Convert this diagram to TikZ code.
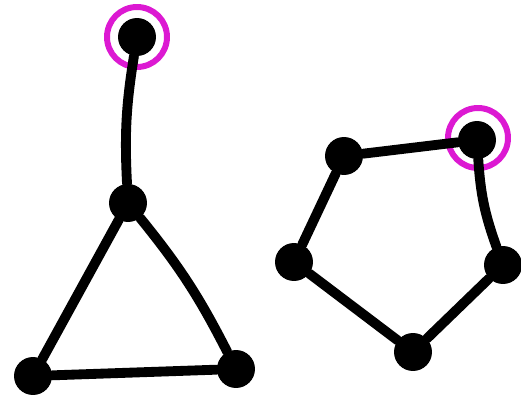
\documentclass[tikz,border=0pt]{standalone}
\usepackage{tikz}
\usetikzlibrary{positioning}
\definecolor{marker}{RGB}{220,25,210}

\begin{document}
\begin{tikzpicture}[x=0.02cm,y=-0.02cm,
    vtx/.style={circle,fill=black,inner sep=0pt,minimum size=0.76cm},
    edge/.style={line width=5.6pt,black,line cap=round},
    ring/.style={circle,draw=marker,line width=3.4pt,inner sep=0pt,minimum size=1.2cm}]
  \useasboundingbox (0,0) rectangle (521,402);
  % triangle with a pendant vertex
  \node[vtx] (t0) at (137,37) {};
  \node[vtx] (t1) at (128,203) {};
  \node[vtx] (t2) at (33,376) {};
  \node[vtx] (t3) at (236,369) {};
  \node[ring] (m0) at (137,37) {};
  \draw[edge] (t0) to[bend right=6] (t1);
  \draw[edge] (t1) -- (t2);
  \draw[edge] (t1) to[bend left=6] (t3);
  \draw[edge] (t2) -- (t3);

  % pentagon
  \node[vtx] (p1) at (344,156) {};
  \node[vtx] (p2) at (477,140) {};
  \node[vtx] (p3) at (503,265) {};
  \node[vtx] (p4) at (413,352) {};
  \node[vtx] (p5) at (294,262) {};
  \node[ring] (m1) at (478,138) {};
  \draw[edge] (p1) -- (p2);
  \draw[edge] (p2) to[bend right=8] (p3);
  \draw[edge] (p3) -- (p4);
  \draw[edge] (p4) -- (p5);
  \draw[edge] (p5) -- (p1);
\end{tikzpicture}
\end{document}
